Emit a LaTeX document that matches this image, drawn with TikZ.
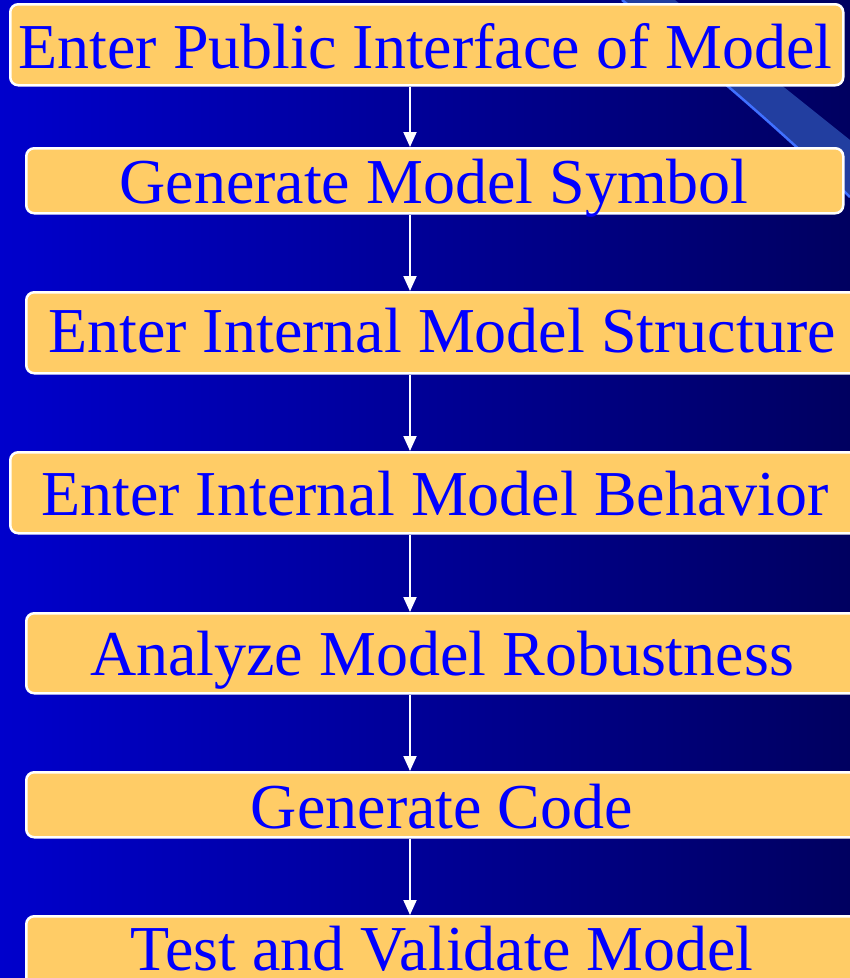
\documentclass[tikz,border=0pt]{standalone}
\usepackage{fontspec}
\setmainfont{Liberation Serif}
\newfontfamily\stepfont{Liberation Serif}
\usetikzlibrary{arrows.meta}
\definecolor{bgleft}{RGB}{0,0,204}
\definecolor{bgmid}{RGB}{0,0,160}
\definecolor{bgright}{RGB}{0,0,96}
\definecolor{streak}{RGB}{34,62,160}
\definecolor{streakedge}{RGB}{64,112,255}
\definecolor{boxfill}{RGB}{255,204,102}
\definecolor{txtblue}{RGB}{0,0,255}
\begin{document}
\begin{tikzpicture}[x=1pt,y=-1pt,
  box/.style={draw=white, line width=2.5pt, fill=boxfill, rounded corners=8pt,
              inner sep=0pt, anchor=north west},
  boxtext/.style={font=\stepfont\fontsize{64}{64}\selectfont, text=txtblue, anchor=base, inner sep=0pt},
  flow/.style={draw=white, line width=2pt, -{Triangle[width=13pt,length=15pt]}}]
  \clip (0,0) rectangle (850,978);
  % background
  \shade[left color=bgleft, middle color=bgmid, right color=bgright] (0,0) rectangle (850,978);
  % diagonal light streak
  \fill[streak] (622,0) .. controls (700,60) and (780,130) .. (850,197) -- (850,140) -- (675,0) -- cycle;
  \draw[streakedge, line width=2.5pt] (622,0) .. controls (700,60) and (780,130) .. (850,197);
  % process boxes
  \node[box, minimum width=833pt, minimum height=81pt] (b1) at (9,3) {};
  \node[box, minimum width=817pt, minimum height=65pt] (b2) at (25,147) {};
  \node[box, minimum width=837pt, minimum height=81pt] (b3) at (25,291) {};
  \node[box, minimum width=853pt, minimum height=81pt] (b4) at (9,451) {};
  \node[box, minimum width=837pt, minimum height=80pt] (b5) at (25,612) {};
  \node[box, minimum width=837pt, minimum height=65pt] (b6) at (25,771) {};
  \node[box, minimum width=837pt, minimum height=85pt] (b7) at (25,915) {};
  % box texts
  \node[boxtext] (t1) at (425.5,68) {Enter Public Interface of Model};
  \node[boxtext] (t2) at (434,203) {Generate Model Symbol};
  \node[boxtext] (t3) at (442,352) {Enter Internal Model Structure};
  \node[boxtext] (t4) at (435,515) {Enter Internal Model Behavior};
  \node[boxtext] (t5) at (442,675) {Analyze Model Robustness};
  \node[boxtext] (t6) at (442,828) {Generate Code};
  \node[boxtext] (t7) at (442,970) {Test and Validate Model};
  % connectors
  \coordinate (axis) at (410,0);
  \draw[flow] (b1.south -| axis) -- (b2.north -| axis);
  \draw[flow] (b2.south -| axis) -- (b3.north -| axis);
  \draw[flow] (b3.south -| axis) -- (b4.north -| axis);
  \draw[flow] (b4.south -| axis) -- (b5.north -| axis);
  \draw[flow] (b5.south -| axis) -- (b6.north -| axis);
  \draw[flow] (b6.south -| axis) -- (b7.north -| axis);
\end{tikzpicture}
\end{document}
